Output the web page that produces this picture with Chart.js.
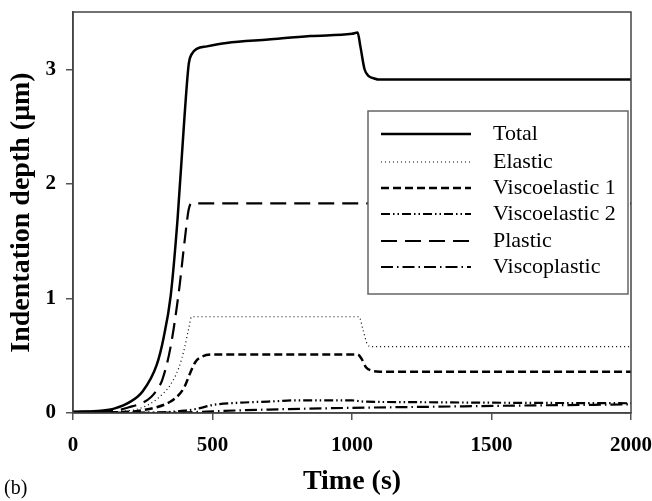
<!DOCTYPE html>
<html>
<head>
<meta charset="utf-8">
<script src="https://cdn.jsdelivr.net/npm/chart.js@4/dist/chart.umd.min.js"></script>
<style>
  html, body { margin: 0; padding: 0; background: #fff; }
  #wrap { position: relative; width: 652px; height: 501px; }
</style>
</head>
<body>
<div id="wrap"><canvas id="chart" width="652" height="501"></canvas></div>
<script>
// time (s) and depth (um) for each component
const totalTime = [0, 100, 150, 200, 250, 300, 325, 350, 375, 400, 415, 425, 445, 480, 550, 700, 850, 1000, 1020, 1030, 1045, 1060, 1080, 1095, 1500, 2000];
const totalDepth = [0.01, 0.02, 0.04, 0.09, 0.19, 0.42, 0.66, 1.02, 1.7, 2.6, 3.05, 3.13, 3.18, 3.2, 3.23, 3.26, 3.29, 3.31, 3.32, 3.2, 3.0, 2.94, 2.92, 2.91, 2.91, 2.91];

const elasticTime = [0, 200, 250, 300, 350, 380, 400, 415, 425, 1025, 1040, 1055, 1070, 2000];
const elasticDepth = [0.005, 0.02, 0.05, 0.12, 0.25, 0.4, 0.57, 0.74, 0.84, 0.84, 0.72, 0.6, 0.58, 0.58];

const ve1Time = [0, 200, 250, 300, 350, 380, 400, 420, 440, 460, 500, 1020, 1035, 1050, 1070, 1100, 2000];
const ve1Depth = [0.005, 0.01, 0.025, 0.05, 0.1, 0.16, 0.23, 0.35, 0.45, 0.49, 0.51, 0.51, 0.47, 0.4, 0.37, 0.36, 0.36];

const ve2Time = [0, 300, 400, 450, 500, 600, 700, 800, 1000, 1040, 1200, 1500, 2000];
const ve2Depth = [0.0, 0.005, 0.02, 0.04, 0.07, 0.09, 0.1, 0.11, 0.11, 0.1, 0.095, 0.09, 0.085];

const plasticTime = [0, 150, 200, 250, 280, 300, 320, 350, 380, 400, 415, 425, 2000];
const plasticDepth = [0.01, 0.02, 0.05, 0.09, 0.14, 0.2, 0.29, 0.58, 1.07, 1.5, 1.78, 1.83, 1.83];

const vpTime = [0, 400, 500, 700, 1000, 1300, 1600, 2000];
const vpDepth = [0.0, 0.005, 0.015, 0.03, 0.045, 0.055, 0.065, 0.075];

const xTicks = [0, 500, 1000, 1500, 2000];
const yTicks = [0, 1, 2, 3];

const serif = "'Liberation Serif', 'Times New Roman', serif";

function pts(t, v) {
  return t.map((x, i) => ({ x: x, y: v[i] }));
}

function series(label, t, v, width, dash) {
  return {
    label: label,
    data: pts(t, v),
    borderColor: '#000',
    borderWidth: width,
    borderDash: dash,
    pointRadius: 0,
    fill: false,
    cubicInterpolationMode: 'monotone'
  };
}

// box around the plot, legend and panel letter
const decor = {
  id: 'decor',
  afterDatasetsDraw(chart) {
    const { ctx, chartArea: a } = chart;
    ctx.save();
    ctx.strokeStyle = '#444';
    ctx.lineWidth = 1.5;
    ctx.setLineDash([]);
    ctx.strokeRect(a.left, a.top, a.right - a.left, a.bottom - a.top);

    // legend
    const bx = 368, by = 111, bw = 260, bh = 183;
    ctx.fillStyle = '#fff';
    ctx.fillRect(bx, by, bw, bh);
    ctx.strokeStyle = '#666';
    ctx.lineWidth = 1.5;
    ctx.strokeRect(bx, by, bw, bh);
    const rows = [134, 162, 188, 214, 241, 267];
    ctx.font = '22px ' + serif;
    ctx.textBaseline = 'middle';
    ctx.fillStyle = '#000';
    chart.data.datasets.forEach((ds, i) => {
      const y = rows[i];
      ctx.beginPath();
      ctx.strokeStyle = '#000';
      ctx.lineWidth = ds.borderWidth;
      ctx.setLineDash(ds.borderDash || []);
      ctx.moveTo(381, y);
      ctx.lineTo(471, y);
      ctx.stroke();
      ctx.setLineDash([]);
      ctx.fillText(ds.label, 493, y);
    });

    ctx.font = '20px ' + serif;
    ctx.textBaseline = 'alphabetic';
    ctx.fillText('(b)', 4, 494);
    ctx.restore();
  }
};

new Chart(document.getElementById('chart'), {
  type: 'line',
  data: {
    datasets: [
      series('Total', totalTime, totalDepth, 2.5, []),
      series('Elastic', elasticTime, elasticDepth, 1.2, [1, 3]),
      series('Viscoelastic 1', ve1Time, ve1Depth, 2.5, [8, 4]),
      series('Viscoelastic 2', ve2Time, ve2Depth, 2.2, [9, 3, 1.5, 3, 1.5, 3]),
      series('Plastic', plasticTime, plasticDepth, 2.2, [16, 8]),
      series('Viscoplastic', vpTime, vpDepth, 2.2, [12, 4, 1.5, 4])
    ]
  },
  plugins: [decor],
  options: {
    responsive: false,
    animation: false,
    layout: { padding: { top: 12, right: 21, left: 0, bottom: 0 } },
    plugins: { legend: { display: false }, tooltip: { enabled: false } },
    scales: {
      x: {
        type: 'linear',
        min: 0,
        max: 2000,
        afterBuildTicks: s => { s.ticks = xTicks.map(v => ({ value: v })); },
        afterFit: s => { s.height = 88; s.paddingLeft = 0; s.paddingRight = 0; },
        grid: { drawOnChartArea: false, drawTicks: true, tickLength: 7, color: '#555', lineWidth: 1.5 },
        border: { color: '#444', width: 1.5 },
        ticks: { color: '#000', padding: 13, callback: v => String(v), font: { family: serif, size: 21, weight: 'bold' } },
        title: { display: true, text: 'Time (s)', color: '#000', padding: { top: 0, bottom: 2 }, font: { family: serif, size: 28, weight: 'bold' } }
      },
      y: {
        min: 0,
        max: 3.5,
        afterBuildTicks: s => { s.ticks = yTicks.map(v => ({ value: v })); },
        afterFit: s => { s.width = 73; s.paddingTop = 0; s.paddingBottom = 0; },
        grid: { drawOnChartArea: false, drawTicks: true, tickLength: 7, color: '#555', lineWidth: 1.5 },
        border: { color: '#444', width: 1.5 },
        ticks: { color: '#000', padding: 10, callback: v => String(v), font: { family: serif, size: 21, weight: 'bold' } },
        title: { display: true, text: 'Indentation depth (μm)', color: '#000', padding: { top: 5, bottom: 0 }, font: { family: serif, size: 28, weight: 'bold' } }
      }
    }
  }
});
</script>
</body>
</html>
